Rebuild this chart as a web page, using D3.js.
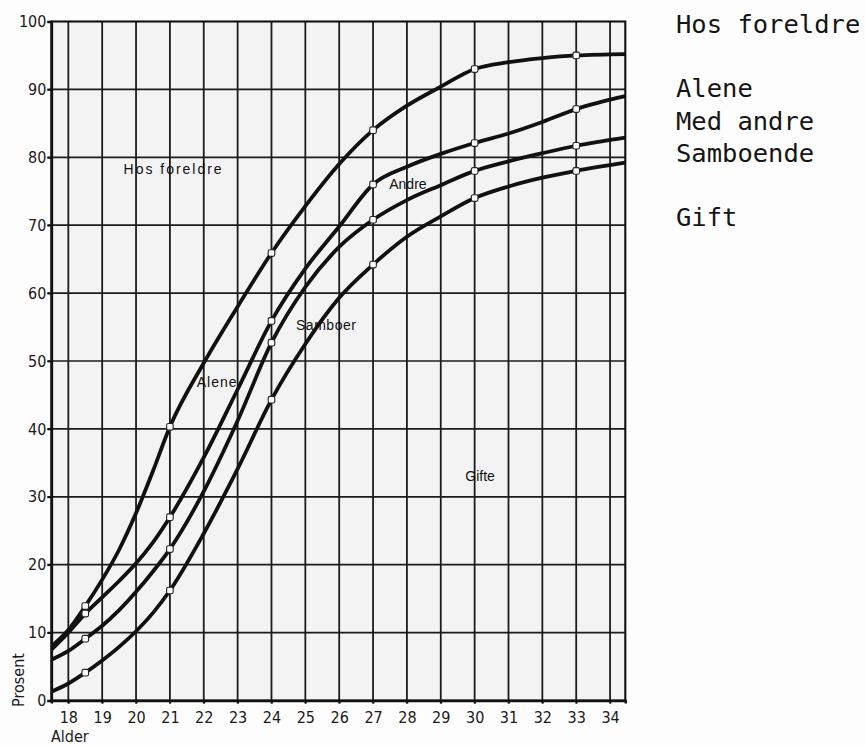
<!DOCTYPE html>
<html><head><meta charset="utf-8">
<script src="https://cdn.jsdelivr.net/npm/d3@7/dist/d3.min.js"></script>
<style>
html,body{margin:0;padding:0;background:#fdfdfd;}
svg{display:block;}
</style></head>
<body>
<script>
// ---- data ----
const ages = [17.5,18,18.5,19,19.5,20,20.5,21,22,23,24,25,26,27,28,29,30,31,32,33,34.45];
const hosForeldre = [8.0,10.4,13.9,17.8,22.2,27.6,33.8,40.3,49.7,58.0,65.9,72.8,79.0,84.0,87.6,90.4,93.0,94.0,94.6,95.0,95.2];
const alene      = [7.5,10.0,12.8,15.2,17.6,20.2,23.3,27.0,35.8,45.8,55.9,63.6,69.8,76.0,78.6,80.5,82.1,83.5,85.2,87.1,89.0];
const medAndre   = [6.0,7.3,9.1,11.0,13.3,16.0,19.0,22.3,30.8,41.2,52.7,60.9,66.8,70.8,73.7,75.9,78.0,79.4,80.6,81.7,82.9];
const samboende  = [1.3,2.5,4.1,5.9,7.9,10.2,12.9,16.2,24.6,34.1,44.3,52.5,59.3,64.2,68.3,71.3,74.0,75.7,77.0,78.0,79.2];
const markerAges = [18.5,21,24,27,30,33];
const xTicks = [18,19,20,21,22,23,24,25,26,27,28,29,30,31,32,33,34];
const yTicks = [0,10,20,30,40,50,60,70,80,90,100];
const regionLabels = ["Hos foreldre","Alene","Andre","Samboer","Gifte"];
const regionAt = [[21.08,77.5],[22.38,46.2],[28.03,75.3],[25.61,54.6],[30.16,32.3]];
const legendLines = ["Hos foreldre","","Alene","Med andre","Samboende","","Gift"];

// ---- layout ----
const W = 865, H = 745;
const svg = d3.select("body").append("svg").attr("width", W).attr("height", H);
const x = d3.scaleLinear().domain([17.5, 34.45]).range([51.4, 625.3]);
const y = d3.scaleLinear().domain([0, 100]).range([700.5, 21.5]);
const axisFont = "'Liberation Sans Narrow','Arial Narrow','DejaVu Sans Condensed',sans-serif";

// plot background
svg.append("rect").attr("x", x(17.5)).attr("y", y(100))
  .attr("width", x(34.45) - x(17.5)).attr("height", y(0) - y(100))
  .attr("fill", "#f3f3f3");

// grid
const grid = svg.append("g");
grid.selectAll("line.v").data(xTicks).join("line")
  .attr("x1", d => x(d)).attr("x2", d => x(d))
  .attr("y1", y(100)).attr("y2", y(0) + 3)
  .attr("stroke", "#1c1c1c").attr("stroke-width", 1.8);
grid.selectAll("line.h").data(yTicks.filter(d => d > 0 && d < 100)).join("line")
  .attr("x1", x(17.5) - 4).attr("x2", x(34.45))
  .attr("y1", d => y(d)).attr("y2", d => y(d))
  .attr("stroke", "#1c1c1c").attr("stroke-width", 1.7);

// frame
svg.append("rect").attr("x", x(17.5)).attr("y", y(100))
  .attr("width", x(34.45) - x(17.5)).attr("height", y(0) - y(100))
  .attr("fill", "none").attr("stroke", "#111").attr("stroke-width", 2.1);

// axes
const yAxis = d3.axisLeft(y).tickValues(yTicks).tickSize(4).tickPadding(1).tickFormat(d3.format("d"));
const gy = svg.append("g").attr("transform", `translate(${x(17.5)},0)`).call(yAxis);
const xAxis = d3.axisBottom(x).tickValues(xTicks).tickSize(3).tickPadding(8).tickFormat(d3.format("d"));
const gx = svg.append("g").attr("transform", `translate(0,${y(0)})`).call(xAxis);
[gx, gy].forEach(g => {
  g.select(".domain").attr("stroke", "#111").attr("stroke-width", 2.5);
  g.selectAll(".tick line").attr("stroke", "#111").attr("stroke-width", 1.8);
  g.selectAll(".tick text").attr("font-family", axisFont).attr("font-size", 16).attr("fill", "#1a1a1a");
});

svg.append("text").attr("transform", `translate(24,680) rotate(-90)`)
  .attr("text-anchor", "middle").attr("font-family", axisFont).attr("font-size", 16)
  .attr("fill", "#1a1a1a").text("Prosent");
svg.append("text").attr("x", 51).attr("y", 742)
  .attr("font-family", axisFont).attr("font-size", 16).attr("fill", "#1a1a1a").text("Alder");

// curves
const series = [hosForeldre, alene, medAndre, samboende];
const line = d3.line().x(d => x(d[0])).y(d => y(d[1])).curve(d3.curveMonotoneX);
svg.append("clipPath").attr("id", "pc").append("rect")
  .attr("x", x(17.5)).attr("y", y(100)).attr("width", x(34.45) - x(17.5)).attr("height", y(0) - y(100));
const cg = svg.append("g").attr("clip-path", "url(#pc)");
series.forEach(s => {
  const pts = ages.map((a, i) => [a, s[i]]);
  cg.append("path").datum(pts).attr("d", line)
    .attr("fill", "none").attr("stroke", "#111").attr("stroke-width", 3.8)
    .attr("stroke-linejoin", "round");
});
series.forEach(s => {
  const pts = ages.map((a, i) => [a, s[i]]).filter(p => markerAges.includes(p[0]));
  svg.append("g").selectAll("rect").data(pts).join("rect")
    .attr("x", d => x(d[0]) - 3.3).attr("y", d => y(d[1]) - 3.3)
    .attr("width", 6.6).attr("height", 6.6).attr("rx", 1.8)
    .attr("fill", "#fafafa").attr("stroke", "#222").attr("stroke-width", 1.1);
});

// region labels
const labelFont = "'Liberation Sans','Arimo',Arial,sans-serif";
const lab = svg.append("g");
regionLabels.forEach((t, i) => {
  lab.append("text").attr("x", x(regionAt[i][0])).attr("y", y(regionAt[i][1]))
    .attr("text-anchor", "middle").attr("font-family", labelFont).attr("font-size", 14)
    .attr("fill", "#111").text(t);
});
lab.selectAll("text").filter((d, i) => i === 0).attr("textLength", 98).attr("lengthAdjust", "spacing");
lab.selectAll("text").filter((d, i) => i === 1).attr("textLength", 40).attr("lengthAdjust", "spacing");
lab.selectAll("text").filter((d, i) => i === 3).attr("textLength", 60).attr("lengthAdjust", "spacing");

// legend text block
const lg = svg.append("g");
legendLines.forEach((t, i) => {
  if (!t) return;
  lg.append("text").attr("x", 676).attr("y", 33 + i * 32.2)
    .attr("font-family", "'DejaVu Sans Mono',monospace").attr("font-size", 25.5)
    .attr("fill", "#151515").text(t);
});
</script>
</body></html>
